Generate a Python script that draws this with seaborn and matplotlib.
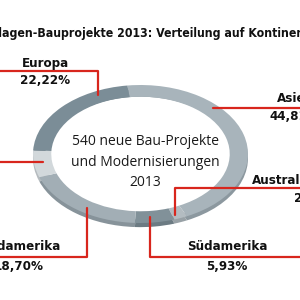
import matplotlib
matplotlib.use("Agg")
import matplotlib.pyplot as plt
from matplotlib import font_manager
import seaborn as sns

# shares of the 540 projects (clockwise from the top of the ring)
continents = ["Asien", "Australien", "Südamerika", "Nordamerika", "Afrika", "Europa"]
shares = [44.81, 2.04, 5.93, 18.70, 6.30, 22.22]
pct_labels = ["44,81%", "2,04%", "5,93%", "18,70%", "6,30%", "22,22%"]
ring_colors = ["#a8b4bb", "#b3bcc1", "#819199", "#a2aeb5", "#d2d8db", "#7b8d97"]
side_colors = ["#8c989f", "#98a1a6", "#6c7b83", "#87939a", "#b5bbbf", "#66767f"]

title = "Anlagen-Bauprojekte 2013: Verteilung auf Kontinente"
center_text = "540 neue Bau-Projekte\nund Modernisierungen\n2013"

sns.set_theme(style="white")
plt.rcParams["font.family"] = ["Open Sans", "DejaVu Sans"]
red = "#d8261d"

# prefer a condensed bold face for the labels if one is installed
label_font, label_stretch = "Roboto", "normal"
for f in font_manager.fontManager.ttflist:
    if f.stretch in ("condensed", "semi-condensed") and f.weight in (600, 700, "bold"):
        label_font, label_stretch = f.name, f.stretch
        break

fig = plt.figure(figsize=(3, 3), dpi=100)
fig.patch.set_facecolor("white")

# ring axes: stretched so the pie becomes an ellipse
cx, cy, rx, ry = 140.5, 154, 107.5, 69
pie_ax = fig.add_axes([(cx - rx) / 300, 1 - (cy + ry) / 300, 2 * rx / 300, 2 * ry / 300])
# side face of the ring (gives the tilted 3D look), only shows at the bottom
pie_ax.pie(shares, colors=side_colors, startangle=97, counterclock=False,
           radius=1, center=(0, -0.06), wedgeprops=dict(width=0.11, linewidth=0))
pie_ax.pie(shares, colors=ring_colors, startangle=97, counterclock=False,
           radius=1, wedgeprops=dict(width=0.17, linewidth=0))
pie_ax.set_aspect("auto")
pie_ax.set_xlim(-1, 1)
pie_ax.set_ylim(-1, 1)
pie_ax.axis("off")

# overlay axes in pixel coordinates for labels and leader lines
ax = fig.add_axes([0, 0, 1, 1])
ax.patch.set_alpha(0)
ax.set_xlim(0, 300)
ax.set_ylim(300, 0)
ax.axis("off")

lab = dict(fontweight="bold", family=[label_font, "DejaVu Sans"],
           fontstretch=label_stretch, color="#111111", va="center")

ax.text(149, 33, title, ha="center", fontsize=8.8, **lab)
ax.text(145, 162, center_text, ha="center", va="center", fontsize=10,
        linespacing=1.5, color="#1a1a1a")

# name / percentage positions: (x, y, horizontal alignment)
name_pos = {
    "Europa": (45, 63, "center"),
    "Asien": (277, 98, "left"),
    "Australien": (252, 180, "left"),
    "Nordamerika": (61, 247, "right"),
    "Südamerika": (227, 247, "center"),
}
pct_pos = {
    "Europa": (45, 81, "center"),
    "Asien": (270, 116, "left"),
    "Australien": (294, 198, "left"),
    "Nordamerika": (44, 266, "right"),
    "Südamerika": (227, 266, "center"),
}
for name, pct in zip(continents, pct_labels):
    if name not in name_pos:
        continue
    x, y, ha = name_pos[name]
    ax.text(x, y, name, ha=ha, fontsize=9.5, **lab)
    x, y, ha = pct_pos[name]
    ax.text(x, y, pct, ha=ha, fontsize=9.5, **lab)

# leader lines
lw = 1.6
ax.plot([0, 98, 98], [71, 71, 95], color=red, lw=lw)
ax.plot([213, 300], [108, 108], color=red, lw=lw)
ax.plot([300, 175, 175], [188, 188, 215], color=red, lw=lw)
ax.plot([0, 87, 87], [257, 257, 208], color=red, lw=lw)
ax.plot([300, 150, 150], [257, 257, 217], color=red, lw=lw)
ax.plot([0, 43], [162, 162], color=red, lw=lw)

fig.savefig("out.png", dpi=100)
